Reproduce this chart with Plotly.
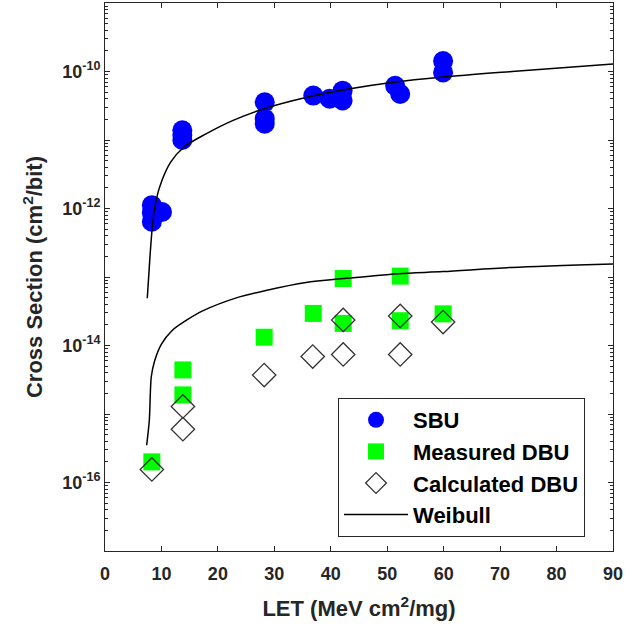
import plotly.graph_objects as go

# ---- data ----
sbu_let = [8.3, 8.3, 8.3, 10.1, 13.7, 13.7, 13.7, 28.3, 28.3, 28.3, 36.9, 39.8, 42.1, 42.1, 51.4, 52.3, 59.9, 59.9]
sbu_cs = [1.12e-12, 8.7e-13, 6.4e-13, 8.9e-13, 1.39e-11, 1.18e-11, 1.0e-11, 3.56e-11, 2.05e-11, 1.73e-11,
          4.45e-11, 4.0e-11, 5.25e-11, 3.78e-11, 6.2e-11, 4.7e-11, 1.42e-10, 9.7e-11]

mdbu_let = [8.3, 13.8, 13.8, 28.2, 36.9, 42.2, 42.2, 52.3, 52.3, 59.9]
mdbu_cs = [2.0e-16, 4.4e-15, 1.9e-15, 1.32e-14, 2.94e-14, 9.5e-14, 2.1e-14, 1.03e-13, 2.3e-14, 2.9e-14]

cdbu_let = [8.3, 13.8, 13.8, 28.2, 36.8, 42.2, 42.2, 52.3, 52.3, 59.9]
cdbu_cs = [1.55e-16, 1.29e-15, 6.0e-16, 3.7e-15, 6.9e-15, 7.4e-15, 2.36e-14, 7.4e-15, 2.7e-14, 2.2e-14]

weib_sbu_let = [7.49, 7.97, 8.45, 8.86, 9.63, 11.6, 14.0, 17.9, 22.8, 28.3, 35.6, 42.9, 50.8, 59.9, 72.1, 90.0]
weib_sbu_cs = [4.9e-14, 2.0e-13, 6.2e-13, 1.07e-12, 2.0e-12, 4.7e-12, 7.9e-12, 1.23e-11, 1.95e-11, 2.88e-11,
               4.17e-11, 5.5e-11, 6.9e-11, 8.3e-11, 1.0e-10, 1.29e-10]

weib_dbu_let = [7.38, 7.85, 8.2, 8.8, 10.0, 11.9, 14.3, 17.3, 23.4, 28.3, 35.6, 42.3, 52.0, 59.9, 72.1, 90.0]
weib_dbu_cs = [3.5e-16, 8.1e-16, 3.5e-15, 6.0e-15, 1.05e-14, 1.66e-14, 2.3e-14, 3.2e-14, 5.0e-14, 6.3e-14,
               8.3e-14, 9.5e-14, 1.12e-13, 1.2e-13, 1.38e-13, 1.55e-13]

x_ticks = [0, 10, 20, 30, 40, 50, 60, 70, 80, 90]
y_decades = list(range(-17, -8))
y_labeled = [-16, -14, -12, -10]

FONT = "Arial, Liberation Sans, sans-serif"
AXC = "#262626"

fig = go.Figure()
fig.add_trace(go.Scatter(x=sbu_let, y=sbu_cs, mode="markers", name="SBU", legendgroup="a",
                         marker=dict(symbol="circle", size=20, color="#0000ff", line=dict(width=0))))
fig.add_trace(go.Scatter(x=mdbu_let, y=mdbu_cs, mode="markers", name="Measured DBU", legendgroup="b",
                         marker=dict(symbol="square", size=17, color="#00ff00", line=dict(width=0))))
fig.add_trace(go.Scatter(x=cdbu_let, y=cdbu_cs, mode="markers", name="Calculated DBU", legendgroup="c",
                         marker=dict(symbol="diamond-open", size=18, color="#333333", line=dict(width=1.3))))
fig.add_trace(go.Scatter(x=weib_sbu_let, y=weib_sbu_cs, mode="lines", name="Weibull", legendgroup="d",
                         line=dict(color="black", width=1.5, shape="spline", smoothing=0.8)))
fig.add_trace(go.Scatter(x=weib_dbu_let, y=weib_dbu_cs, mode="lines", name="Weibull", legendgroup="d",
                         showlegend=False,
                         line=dict(color="black", width=1.5, shape="spline", smoothing=0.8)))

minor_vals = [m * 10.0 ** d for d in y_decades[:-1] for m in range(2, 10)]

fig.update_layout(
    width=644, height=626,
    margin=dict(l=105, r=31, t=3, b=75),
    paper_bgcolor="white", plot_bgcolor="white",
    font=dict(family=FONT, color=AXC),
    showlegend=True,
    legend=dict(x=0.4587, y=0.2792, xanchor="left", yanchor="top",
                bgcolor="white", bordercolor=AXC, borderwidth=1,
                font=dict(family=FONT, size=22, color="black", weight="bold"),
                itemwidth=64, tracegroupgap=0, traceorder="grouped"),
    xaxis=dict(range=[0, 90], tickvals=x_ticks, ticks="inside", ticklen=5, tickcolor=AXC,
               showline=True, linecolor=AXC, linewidth=1, mirror="allticks", showgrid=False, zeroline=False,
               ticklabelstandoff=6,
               tickfont=dict(family=FONT, size=18, color=AXC, weight="bold"),
               title=dict(text="LET (MeV cm<sup>2</sup>/mg)", standoff=18,
                          font=dict(family=FONT, size=22, color=AXC, weight="bold"))),
    yaxis=dict(type="log", range=[-17, -9],
               tickvals=[10.0 ** d for d in y_decades],
               ticktext=[("10<sup>%d</sup>" % d) if d in y_labeled else "" for d in y_decades],
               ticks="inside", ticklen=5, tickcolor=AXC,
               minor=dict(tickvals=minor_vals, ticks="inside", ticklen=3, tickcolor=AXC, showgrid=False),
               showline=True, linecolor=AXC, linewidth=1, mirror="allticks", showgrid=False, zeroline=False,
               tickfont=dict(family=FONT, size=18, color=AXC, weight="bold"),
               title=dict(text="Cross Section (cm<sup>2</sup>/bit)", standoff=13,
                          font=dict(family=FONT, size=22, color=AXC, weight="bold"))),
)

fig.write_html("out.html")
